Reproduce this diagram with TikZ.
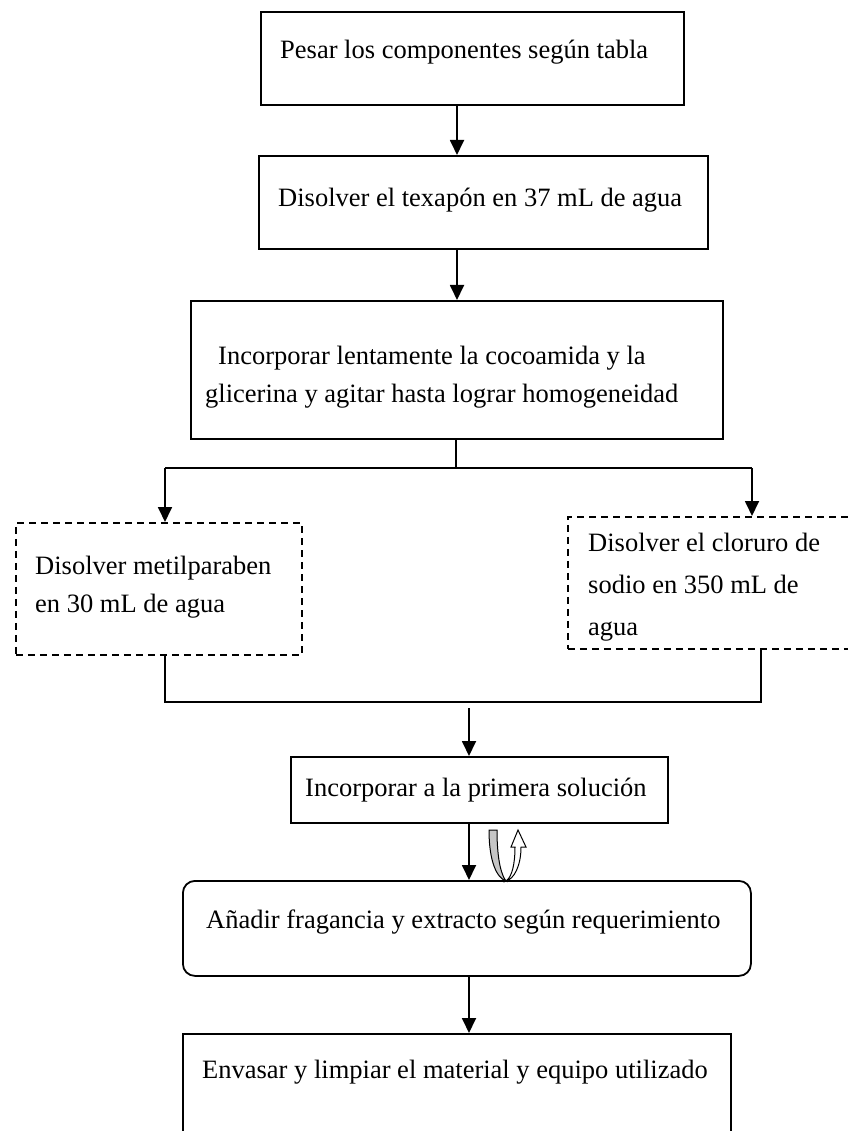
\documentclass[tikz,border=0pt]{standalone}
\usepackage{fontspec}
\setmainfont{Liberation Serif}
\usetikzlibrary{arrows.meta}

\tikzset{
  caja/.style={draw, line width=1.8pt, anchor=north west, inner sep=0pt},
  cajapunt/.style={caja, dash pattern=on 7pt off 5pt},
  texto/.style={anchor=west, inner sep=0pt, align=left, font=\fontsize{26.5}{38}\selectfont},
  linea/.style={line width=1.8pt},
  flecha/.style={linea, -{Triangle[length=15pt,width=14pt]}},
}

\begin{document}
\begin{tikzpicture}[x=1pt,y=-1pt]

\useasboundingbox (0,0) rectangle (847,1131);

%PESAR
  \node[caja, minimum width=423, minimum height=93] (pesar) at (260,11) {};
  \node[texto] (pesartxt) at (280,52) {Pesar los componentes según tabla};

%TEXAPON
  \node[caja, minimum width=449, minimum height=93] (texapon) at (258,155) {};
  \node[texto] (texapontxt) at (278,200) {Disolver el texapón en 37 mL de agua};
  \draw[flecha] (457,0 |- pesar.south) -- (457,0 |- texapon.north);

%COCOAMIDA
  \node[caja, minimum width=532, minimum height=138] (cocoa) at (190,300) {};
  \node[texto] (cocoatxt) at (205,377) {\hspace*{13pt}Incorporar lentamente la cocoamida y la\\glicerina y agitar hasta lograr homogeneidad};
  \draw[flecha] (457,0 |- texapon.south) -- (457,0 |- cocoa.north);

%RAMAS
\coordinate (ramaC) at (456,468);
\coordinate (ramaL) at (165,468);
\coordinate (ramaR) at (752,468);
  \draw[linea] (ramaC |- cocoa.south) -- (ramaC);
  \draw[linea] (ramaL) -- (ramaR);

%METILPARABEN
  \node[cajapunt, minimum width=286, minimum height=132] (metil) at (15,522) {};
  \node[texto] (metiltxt) at (35,587) {Disolver metilparaben\\en 30 mL de agua};
  \draw[flecha] (ramaL) -- (ramaL |- metil.north);

%CLORURO
  \node[cajapunt, minimum width=290, minimum height=132] (cloruro) at (567,516) {};
  \node[texto] (clorurotxt) at (588,587) {Disolver el cloruro de\\[4pt]sodio en 350 mL de\\[4pt]agua};
  \draw[flecha] (ramaR) -- (ramaR |- cloruro.north);

%UNION
\coordinate (unionL) at (165,702);
\coordinate (unionR) at (761,702);
\coordinate (bajada) at (469,708);
  \draw[linea] (unionL |- metil.south) -- (unionL) -- (unionR) -- (unionR |- cloruro.south);

%PRIMERA SOLUCION
  \node[caja, minimum width=377, minimum height=66] (primera) at (290,756) {};
  \node[texto] (primeratxt) at (305,790) {Incorporar a la primera solución};
  \draw[flecha] (bajada) -- (bajada |- primera.north);

%FRAGANCIA
  \node[caja, rounded corners=12pt, minimum width=568, minimum height=95] (fragancia) at (182,880) {};
  \node[texto] (fraganciatxt) at (206,922) {Añadir fragancia y extracto según requerimiento};
  \draw[flecha] (bajada |- primera.south) -- (bajada |- fragancia.north);
  % vuelta
  \filldraw[fill=gray!45, line width=1pt] (489,830) -- (497,830) .. controls (497,862) and (502,876) .. (506,881) .. controls (497,878) and (489,862) .. (489,830) -- cycle;
  \filldraw[fill=white, line width=1pt] (506,881) .. controls (512,877) and (515,864) .. (515,847) -- (511,847) -- (518,830) -- (526,847) -- (521,847) .. controls (521,866) and (514,879) .. (506,881) -- cycle;

%ENVASAR
  \node[caja, minimum width=548, minimum height=120] (envasar) at (182,1033) {};
  \node[texto] (envasartxt) at (202,1072) {Envasar y limpiar el material y equipo utilizado};
  \draw[flecha] (bajada |- fragancia.south) -- (bajada |- envasar.north);

\end{tikzpicture}
\end{document}
